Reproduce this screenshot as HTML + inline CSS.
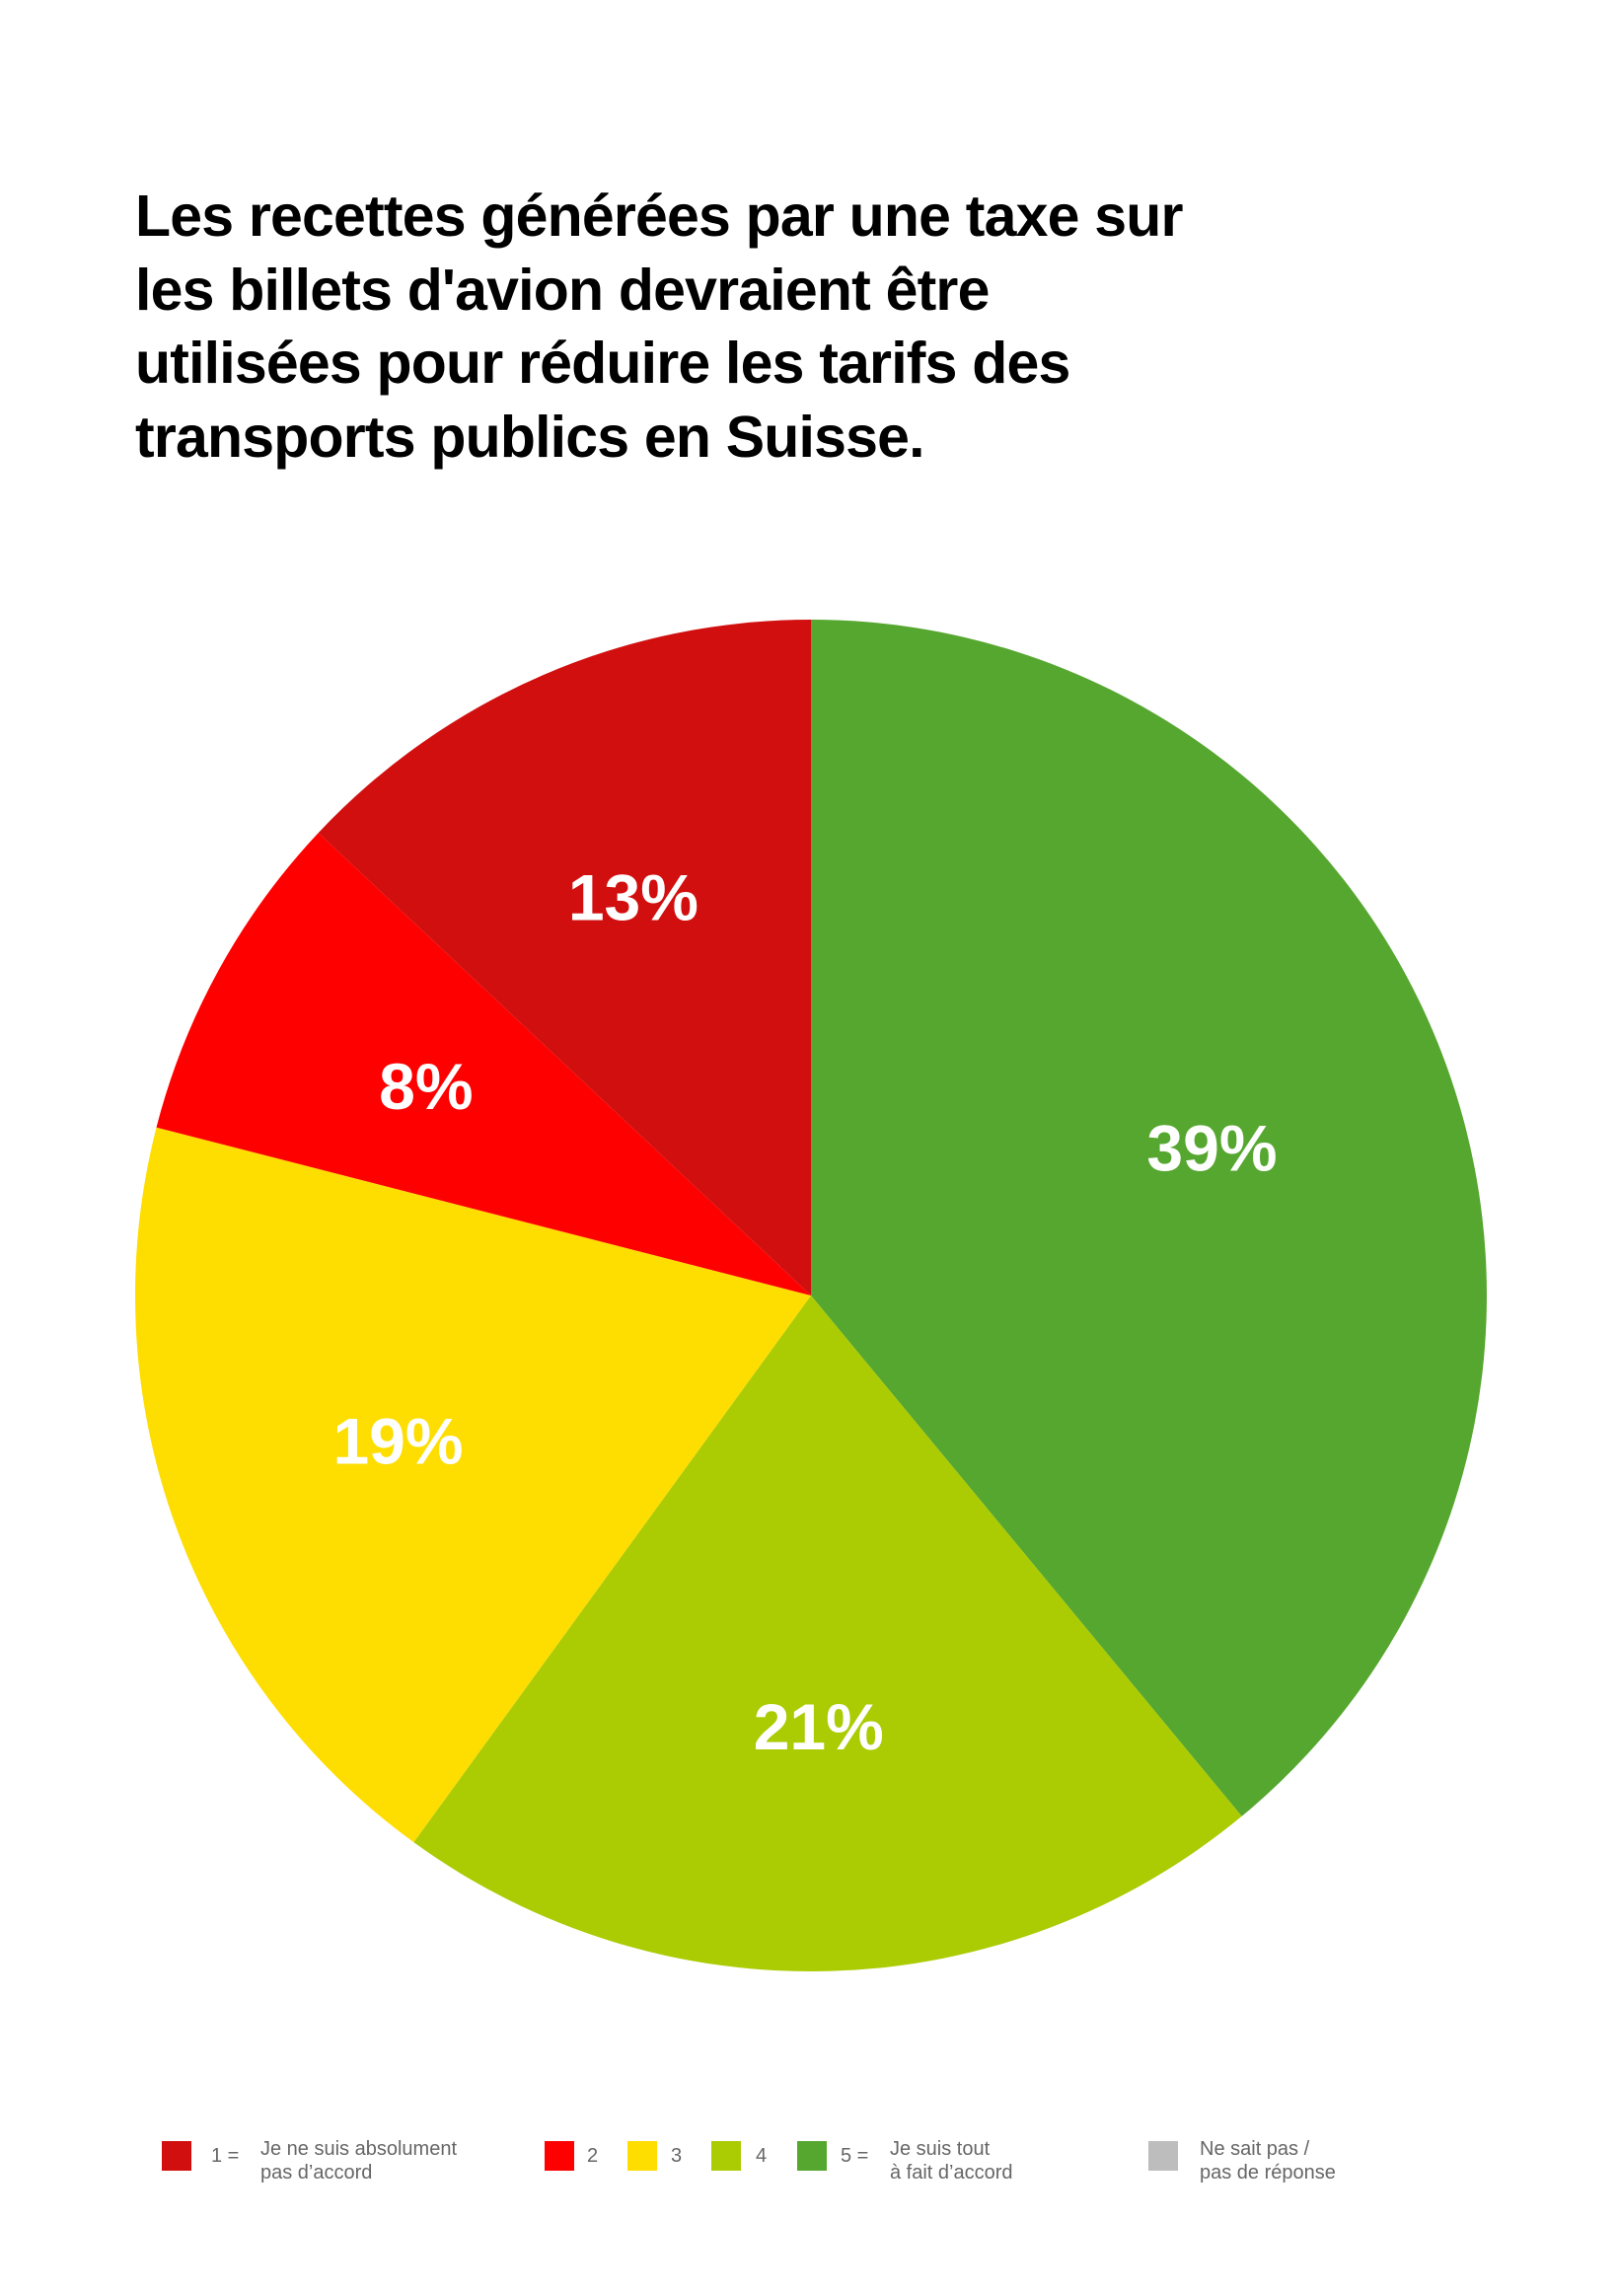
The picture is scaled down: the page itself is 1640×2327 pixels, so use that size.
<!DOCTYPE html>
<html><head><meta charset="utf-8">
<style>
html,body{margin:0;padding:0;background:#fff;}
body{width:1640px;height:2327px;position:relative;overflow:hidden;font-family:"Liberation Sans",sans-serif;}
#title{position:absolute;left:137px;top:182px;margin:0;font-size:59px;line-height:74.5px;font-weight:bold;letter-spacing:-0.8px;color:#000;}
svg{position:absolute;left:0;top:0;}
.lg{position:absolute;font-size:20px;color:#666;line-height:24px;}
.sq{position:absolute;width:30px;height:30px;top:2170px;}
</style></head><body>
<h1 id="title">Les recettes générées par une taxe sur<br>les billets d'avion devraient être<br>utilisées pour réduire les tarifs des<br>transports publics en Suisse.</h1>
<svg id="chart" width="1640" height="2327"></svg>

<div class="sq" style="left:164px;background:#d20f0f"></div>
<div class="lg" style="left:214px;top:2173px">1 =</div>
<div class="lg" style="left:264px;top:2166px">Je ne suis absolument<br>pas d’accord</div>
<div class="sq" style="left:552px;background:#ff0000"></div>
<div class="lg" style="left:595px;top:2173px">2</div>
<div class="sq" style="left:636px;background:#fedd00"></div>
<div class="lg" style="left:680px;top:2173px">3</div>
<div class="sq" style="left:721px;background:#abcb03"></div>
<div class="lg" style="left:766px;top:2173px">4</div>
<div class="sq" style="left:808px;background:#56a72f"></div>
<div class="lg" style="left:852px;top:2173px">5 =</div>
<div class="lg" style="left:902px;top:2166px">Je suis tout<br>à fait d’accord</div>
<div class="sq" style="left:1164px;background:#bdbdbd"></div>
<div class="lg" style="left:1216px;top:2166px">Ne sait pas /<br>pas de réponse</div>

<script>
const categories = ["5", "4", "3", "2", "1"];
const values = [39, 21, 19, 8, 13];
const labels = ["39%", "21%", "19%", "8%", "13%"];
const colors = ["#56a72f", "#abcb03", "#fedd00", "#ff0000", "#d20f0f"];
const cx = 822, cy = 1313, R = 685;
const svg = document.getElementById('chart');
const NS = "http://www.w3.org/2000/svg";
const total = values.reduce((a,b)=>a+b,0);
function pt(a, r){ return [cx + r*Math.sin(a), cy - r*Math.cos(a)]; }
let start = 0;
values.forEach((v,i)=>{
  const ang = v/total*2*Math.PI;
  const end = start + ang;
  const [x1,y1] = pt(start,R), [x2,y2] = pt(end,R);
  const p = document.createElementNS(NS,'path');
  p.setAttribute('d', `M${cx},${cy} L${x1},${y1} A${R},${R} 0 ${ang>Math.PI?1:0} 1 ${x2},${y2} Z`);
  p.setAttribute('fill', colors[i]);
  
  
  svg.appendChild(p);
  const [lx,ly] = pt(start+ang/2, R*0.64);
  const t = document.createElementNS(NS,'text');
  t.setAttribute('x', lx - 6); t.setAttribute('y', ly+22);
  t.setAttribute('text-anchor','middle');
  t.setAttribute('font-family','Liberation Sans, sans-serif');
  t.setAttribute('font-weight','bold');
  t.setAttribute('font-size','66');
  t.setAttribute('fill','#fff');
  t.textContent = labels[i];
  
  
  svg.appendChild(t);
  start = end;
});
</script>
</body></html>
